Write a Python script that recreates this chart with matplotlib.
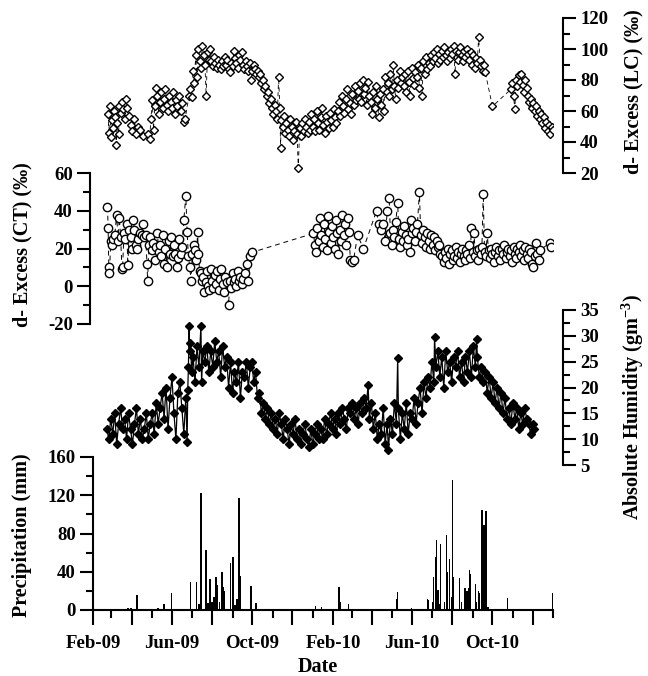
import pandas as pd
import matplotlib
matplotlib.use("Agg")
import matplotlib.pyplot as plt
import matplotlib.dates as mdates
from matplotlib.ticker import MultipleLocator, FuncFormatter

# Days counted from 1 Feb 2009
START = pd.Timestamp("2009-02-01")

# d-excess (LC), permil
lc_points = [
    (23, 58), (24, 46), (26, 63), (27, 43), (29, 54), (31, 49), (32, 60), (34, 56), (35, 38), (37, 52),
    (39, 45), (40, 63), (42, 59), (44, 66), (46, 61), (48, 55), (50, 68), (52, 62), (54, 57), (57, 51),
    (59, 47), (62, 55), (65, 45), (68, 50), (72, 48), (76, 44),
    (84, 45), (86, 42), (88, 55), (90, 67), (92, 48), (94, 63), (96, 75), (98, 70), (100, 58), (102, 66),
    (104, 72), (106, 62), (108, 68), (110, 74), (112, 64), (114, 60), (116, 70), (118, 66), (120, 62),
    (122, 72), (124, 58), (126, 67), (128, 63), (130, 70), (133, 60), (135, 65), (138, 53), (140, 55),
    (146, 70), (148, 74), (150, 69), (152, 86), (154, 78), (156, 96), (158, 82), (160, 100), (162, 92),
    (164, 88), (166, 102), (168, 96), (170, 90), (172, 70), (174, 98), (176, 93), (178, 100), (180, 92),
    (182, 89), (184, 95), (186, 91), (188, 88), (190, 93), (192, 90), (194, 87), (196, 92), (198, 89),
    (200, 95), (202, 90), (204, 93), (206, 87), (208, 85), (210, 91), (212, 89), (214, 99), (216, 94),
    (218, 91), (220, 88), (222, 96), (224, 93), (226, 98), (228, 90), (230, 87), (232, 92), (234, 89),
    (236, 86), (238, 91), (240, 80), (242, 86), (244, 90), (246, 87), (248, 84),
    (250, 86), (252, 82), (254, 84), (256, 78), (258, 80), (260, 74), (262, 76), (264, 70), (266, 72),
    (268, 65), (270, 68), (272, 62), (274, 58), (276, 64), (278, 60), (280, 55), (282, 82), (284, 62),
    (285, 36), (286, 54), (288, 50), (290, 57), (292, 46), (294, 52), (296, 48), (298, 44), (300, 55),
    (302, 50), (304, 41), (306, 47), (308, 53), (310, 45), (312, 23), (314, 49), (316, 44), (318, 52),
    (320, 47), (322, 55), (324, 50), (326, 46), (328, 53), (330, 48),
    (332, 58), (334, 50), (336, 55), (338, 47), (340, 60), (342, 52), (344, 48), (346, 56), (348, 62),
    (350, 51), (352, 46), (354, 57), (356, 53), (358, 49), (360, 59), (362, 54), (364, 50), (366, 61),
    (368, 56), (370, 52), (372, 60), (374, 66), (376, 57), (378, 70), (380, 63), (382, 59), (384, 68),
    (386, 74), (388, 61), (390, 65), (392, 58), (394, 71), (396, 64), (398, 76), (400, 67), (402, 73),
    (404, 68), (406, 78), (408, 66), (410, 80), (412, 71), (414, 75), (416, 64), (418, 79), (420, 70),
    (422, 66), (424, 58), (426, 72), (428, 62), (430, 76), (432, 68), (434, 56), (436, 71), (438, 64),
    (440, 74), (442, 60), (444, 82), (446, 72), (448, 78), (450, 70), (452, 84), (454, 74), (456, 90),
    (458, 76), (460, 68), (462, 80), (464, 75), (466, 86), (468, 78), (470, 82), (472, 76), (474, 84),
    (476, 72), (478, 86), (480, 79), (482, 70), (484, 88), (486, 81), (488, 77), (490, 85), (492, 82),
    (494, 90), (496, 75), (498, 88), (500, 70), (502, 92), (504, 84), (506, 95), (508, 87), (510, 91),
    (512, 89), (514, 96), (516, 92), (518, 98), (520, 94), (522, 100), (524, 91), (526, 97), (528, 93),
    (530, 99), (532, 95), (534, 101), (536, 96), (538, 92), (540, 98), (542, 94), (544, 100), (546, 97),
    (548, 102), (550, 84), (552, 99), (554, 93), (556, 98), (558, 101), (560, 96), (562, 92), (564, 99),
    (566, 95), (568, 100), (570, 97), (572, 93), (574, 98), (576, 90), (578, 96), (580, 88), (582, 94),
    (584, 91), (586, 108), (588, 93), (590, 89), (592, 86), (594, 90), (596, 85),
    (607, 63),
    (635, 74), (637, 78), (639, 70), (641, 61), (643, 80), (645, 76), (647, 83), (649, 79), (651, 84),
    (653, 77), (655, 72), (657, 80), (659, 75), (661, 70), (663, 66), (665, 68), (667, 62), (669, 65),
    (671, 60), (673, 63), (675, 57), (677, 60), (679, 55), (681, 58), (683, 52), (685, 56), (687, 49),
    (689, 53), (691, 47), (693, 51), (695, 45), (697, 50), (699, 48),
]

# d-excess (CT), permil
ct_points = [
    (22, 42), (23, 31), (24, 10), (25, 7), (27, 24), (29, 22), (31, 25), (33, 27), (36, 38), (38, 24),
    (40, 36), (42, 26), (44, 9), (45, 10), (47, 28), (49, 25), (51, 33), (53, 11), (55, 30), (57, 26),
    (59, 20), (61, 35), (63, 30), (65, 22), (67, 20), (69, 25), (72, 28), (74, 27), (76, 33), (78, 26),
    (80, 27), (82, 12), (83, 3), (85, 22), (87, 26), (89, 19), (91, 23), (94, 14), (96, 21), (98, 28),
    (100, 18), (102, 22), (104, 16), (106, 27), (108, 12), (110, 20), (113, 10), (115, 24), (117, 17),
    (119, 26), (121, 16), (123, 22), (125, 17), (127, 10), (129, 15), (131, 25), (133, 17), (135, 21),
    (138, 35), (141, 48), (143, 29), (145, 16), (147, 10), (149, 3), (151, 17), (153, 22), (155, 19),
    (157, 14), (159, 29), (160, 17), (162, 8), (164, 7), (166, 3), (167, 5), (169, -3), (171, 2),
    (173, 8), (175, 0), (177, -2), (179, 9), (181, 3), (183, -1), (185, 6), (187, 1), (189, 8),
    (191, -2), (193, 4), (195, 9), (197, 1), (199, -3), (201, 5), (203, 2), (206, -10), (208, 3),
    (210, -1), (212, 7), (214, 2), (216, 4), (218, 0), (220, 8), (222, 3), (224, 5), (226, 1), (228, 4),
    (231, 7), (234, 12), (236, 3), (239, 16), (242, 18),
    (335, 28), (337, 22), (339, 18), (341, 31), (343, 24), (345, 36), (347, 27), (349, 21), (351, 33),
    (353, 25), (355, 19), (357, 37), (359, 29), (361, 23), (363, 32), (365, 26), (367, 20), (369, 35),
    (371, 28), (373, 17), (375, 30), (377, 24), (379, 38), (381, 27), (383, 33), (385, 22), (387, 36),
    (389, 29), (391, 14), (393, 13), (396, 14), (402, 27), (411, 20), (431, 40), (434, 33), (437, 30),
    (440, 33), (444, 24), (447, 40), (450, 47), (452, 28), (454, 22), (456, 30), (458, 26), (460, 34),
    (463, 44), (465, 25), (467, 21), (469, 29), (471, 24), (473, 32), (475, 27), (477, 22), (479, 25),
    (481, 18), (483, 35), (485, 28), (487, 31), (489, 24), (491, 29), (493, 33), (496, 50), (498, 27),
    (500, 23), (502, 30), (504, 26), (506, 21), (508, 28), (510, 24), (512, 20), (514, 27), (516, 22),
    (518, 26), (520, 19), (522, 24), (524, 21), (526, 22), (528, 17),
    (531, 16), (533, 13), (535, 18), (537, 15), (539, 20), (541, 12), (543, 17), (545, 19), (547, 14),
    (549, 16), (551, 21), (553, 15), (555, 18), (557, 13), (559, 17), (561, 20), (563, 16), (565, 14),
    (567, 19), (569, 17), (571, 22), (573, 15), (575, 31), (577, 18), (579, 28), (581, 16), (583, 19),
    (585, 14), (587, 20), (589, 17), (591, 21), (593, 49), (595, 18), (597, 16), (599, 28), (601, 19),
    (603, 15), (605, 20), (607, 17), (609, 13), (611, 18), (613, 21), (615, 16), (617, 19), (619, 14),
    (621, 20), (623, 17), (625, 22), (627, 15), (629, 18), (631, 20), (633, 16), (635, 19), (637, 13),
    (639, 21), (641, 17), (643, 15), (645, 20), (647, 18), (649, 22), (651, 16), (653, 19), (655, 14),
    (657, 21), (659, 17), (661, 15), (663, 20), (665, 18), (667, 12), (669, 10), (671, 16), (673, 23),
    (675, 17), (677, 14), (679, 19), (694, 23), (696, 21),
]

# absolute humidity, g m-3
ah_points = [
    (21, 12), (24, 10), (27, 14), (30, 11), (33, 15), (36, 9), (39, 13), (42, 16), (45, 12), (48, 14),
    (51, 10), (54, 15), (57, 12), (60, 9), (63, 13), (66, 16), (69, 11), (72, 14), (75, 10), (78, 12),
    (81, 15), (84, 10), (87, 13), (90, 15), (93, 11), (96, 17), (99, 13), (102, 16), (105, 19), (108, 14),
    (111, 20), (114, 12), (117, 18), (120, 22), (123, 15), (126, 10), (129, 19), (132, 21), (135, 16),
    (138, 11), (141, 18), (143, 9.5), (144, 19.5), (145, 24), (146, 32), (147, 27), (148, 28.6),
    (150, 23), (152, 26), (155, 21), (158, 28), (161, 24), (164, 32), (165, 21), (167, 27), (170, 25),
    (173, 28), (176, 23), (179, 27), (182, 24), (185, 29), (188, 25), (191, 27), (194, 22), (197, 28),
    (200, 24), (203, 26), (206, 20), (209, 25), (212, 19), (215, 23), (218, 21), (221, 25), (224, 18),
    (227, 23), (230, 22), (233, 25), (236, 20), (239, 24), (242, 25), (244, 21), (247, 23), (250, 18),
    (253, 19), (256, 15), (259, 17), (262, 14), (265, 16), (268, 13), (271, 15), (274, 12), (277, 14),
    (280, 11), (283, 15), (286, 13), (289, 10), (292, 14), (295, 12), (298, 9), (301, 13), (304, 11),
    (307, 14), (310, 10), (313, 12), (316, 9), (319, 11), (322, 13), (325, 10), (328, 8.5), (331, 12),
    (334, 9), (337, 11), (340, 13), (343, 10), (346, 12), (349, 10), (352, 14), (355, 11), (358, 13),
    (361, 15), (364, 12), (367, 14), (370, 11), (373, 15), (376, 13), (379, 16), (382, 14), (385, 12),
    (388, 16), (391, 15), (394, 17), (397, 14), (400, 16), (403, 13), (406, 17), (409, 15), (412, 18),
    (415, 16), (418, 20.5), (420, 14), (423, 17), (426, 12), (429, 15), (432, 10), (435, 13), (438, 11),
    (441, 16), (444, 9), (447, 13), (449, 8), (452, 14), (455, 11), (458, 17), (461, 13), (463, 25.7),
    (464, 16), (467, 10), (470, 15), (473, 12), (476, 17), (479, 11), (482, 15), (485, 14), (488, 18),
    (491, 13), (494, 17), (497, 20), (500, 15), (503, 21), (506, 18), (509, 22), (512, 20), (515, 25),
    (518, 21), (519, 29.8), (521, 24), (524, 27), (527, 22), (530, 26), (533, 20), (536, 27), (539, 23),
    (542, 25), (545, 21), (548, 26), (551, 24), (554, 27), (557, 22), (560, 25), (563, 21), (566, 26),
    (569, 23), (572, 27), (575, 22), (578, 28), (581, 24), (583, 29.4), (584, 26), (587, 22), (590, 24),
    (593, 21), (596, 23), (599, 19), (602, 22), (605, 18), (608, 21), (611, 17), (614, 20), (617, 16),
    (620, 19), (623, 15), (626, 18), (629, 14), (632, 16), (635, 13), (638, 17), (641, 14), (644, 16),
    (647, 12), (650, 15), (653, 13), (656, 16), (659, 14), (662, 13), (665, 11), (668, 13), (670, 12),
]

# daily precipitation, mm
precip_points = [
    (53, 2), (58, 2.5), (67, 16), (99, 2), (108, 6), (119, 18), (148, 29), (157, 29), (161, 6),
    (164, 122), (172, 63), (175, 7), (178, 32), (181, 8), (184, 14), (187, 34), (189, 26), (192, 8),
    (195, 28), (196, 40), (198, 24), (199, 20), (209, 49), (213, 55), (216, 5), (219, 12), (221, 38),
    (222, 117), (224, 36), (240, 25), (248, 7), (338, 4), (347, 3), (374, 24), (376, 8), (388, 6),
    (461, 11), (463, 19), (484, 2), (493, 1), (508, 11), (510, 10), (516, 8), (517, 35), (521, 55),
    (522, 73), (524, 21), (527, 6), (528, 69), (534, 8), (537, 78), (539, 40), (542, 53), (545, 14),
    (546, 136), (548, 35), (557, 33), (560, 8), (565, 23), (568, 20), (571, 23), (572, 42), (574, 38),
    (581, 27), (583, 8), (586, 20), (587, 18), (591, 105), (592, 14), (594, 89), (597, 104), (598, 69),
    (600, 3), (630, 12.5), (699, 18),
]

W, H = 648, 676


def unpack(points):
    days = [p[0] for p in points]
    vals = [p[1] for p in points]
    return START + pd.to_timedelta(days, unit="D"), vals


def box(top_px, bottom_px):
    return [93 / W, 1 - bottom_px / H, 460 / W, (bottom_px - top_px) / H]


def style_y(ax, side, major, minor):
    for s in ["top", "bottom", "left", "right"]:
        ax.spines[s].set_visible(False)
    ax.spines[side].set_visible(True)
    ax.spines[side].set_linewidth(1.5)
    if side == "right":
        ax.yaxis.tick_right()
    ax.yaxis.set_major_locator(MultipleLocator(major))
    ax.yaxis.set_minor_locator(MultipleLocator(minor))
    ax.tick_params(axis="y", which="major", direction="out", length=9.5, width=1.5, labelsize=13.5, pad=3)
    ax.tick_params(axis="y", which="minor", direction="out", length=5, width=1.5)
    ax.patch.set_alpha(0)


def main():
    plt.rcParams["font.family"] = "Liberation Serif"
    plt.rcParams["font.weight"] = "bold"
    plt.rcParams["mathtext.fontset"] = "custom"
    plt.rcParams["mathtext.rm"] = "Liberation Serif:bold"
    plt.rcParams["mathtext.it"] = "Liberation Serif:bold"
    plt.rcParams["mathtext.bf"] = "Liberation Serif:bold"
    plt.rcParams["axes.unicode_minus"] = False

    fig = plt.figure(figsize=(6.48, 6.76), dpi=100)

    ax_pr = fig.add_axes(box(457, 610))
    ax_ah = fig.add_axes(box(310, 465), sharex=ax_pr)
    ax_ct = fig.add_axes(box(173, 324), sharex=ax_pr)
    ax_lc = fig.add_axes(box(18, 173), sharex=ax_pr)

    # precipitation bars
    d, v = unpack(precip_points)
    ax_pr.bar(d, v, width=2.2, color="black", linewidth=0)
    ax_pr.set_ylim(0, 160)
    style_y(ax_pr, "left", 40, 20)
    ax_pr.spines["bottom"].set_visible(True)
    ax_pr.spines["bottom"].set_linewidth(1.5)

    ax_pr.set_xlim(pd.Timestamp("2009-02-01"), pd.Timestamp("2011-01-01"))
    ax_pr.xaxis.set_major_locator(mdates.MonthLocator(bymonth=[2, 4, 6, 8, 10, 12]))
    ax_pr.xaxis.set_minor_locator(mdates.MonthLocator())

    def month_label(x, pos):
        dt = mdates.num2date(x)
        return dt.strftime("%b-%y") if dt.month in (2, 6, 10) else ""

    ax_pr.xaxis.set_major_formatter(FuncFormatter(month_label))
    ax_pr.tick_params(axis="x", which="major", direction="out", length=11, width=1.5, labelsize=13.5, pad=7)
    ax_pr.tick_params(axis="x", which="minor", direction="out", length=5.5, width=1.5)

    # absolute humidity
    d, v = unpack(ah_points)
    ax_ah.plot(d, v, color="black", linewidth=0.9, marker="D", markersize=4.2,
               markerfacecolor="black", markeredgecolor="black")
    ax_ah.set_ylim(5, 35)
    style_y(ax_ah, "right", 5, 2.5)
    ax_ah.spines["right"].set_position(("outward", 7))

    # d-excess CT
    d, v = unpack(ct_points)
    ax_ct.plot(d, v, color="black", linewidth=0.7, linestyle=(0, (5, 4)), marker="o", markersize=6,
               markerfacecolor="white", markeredgecolor="black", markeredgewidth=1.0)
    ax_ct.set_ylim(-20, 60)
    style_y(ax_ct, "left", 20, 10)
    ax_ct.spines["left"].set_position(("outward", 2))

    # d-excess LC
    d, v = unpack(lc_points)
    ax_lc.plot(d, v, color="black", linewidth=0.6, linestyle=(0, (5, 4)), marker="D", markersize=4.5,
               markerfacecolor="white", markeredgecolor="black", markeredgewidth=1.0)
    ax_lc.set_ylim(20, 120)
    style_y(ax_lc, "right", 20, 10)
    ax_lc.spines["right"].set_position(("outward", 7))

    for ax in (ax_ah, ax_ct, ax_lc):
        ax.tick_params(axis="x", which="both", bottom=False, labelbottom=False)

    lab = dict(rotation=90, ha="center", va="center", fontsize=14.5, fontweight="bold")
    fig.text(633 / W, 1 - 92 / H, "d- Excess (LC) (‰)", **lab)
    fig.text(22 / W, 1 - 245 / H, "d- Excess (CT) (‰)", **lab)
    fig.text(633 / W, 1 - 407 / H, "Absolute Humidity (gm$^{-3}$)", **lab)
    fig.text(22 / W, 1 - 535 / H, "Precipitation (mm)", **lab)
    fig.text(318 / W, 1 - 667 / H, "Date", ha="center", va="center", fontsize=14.5, fontweight="bold")

    fig.savefig("out.png", dpi=100)


if __name__ == "__main__":
    main()
